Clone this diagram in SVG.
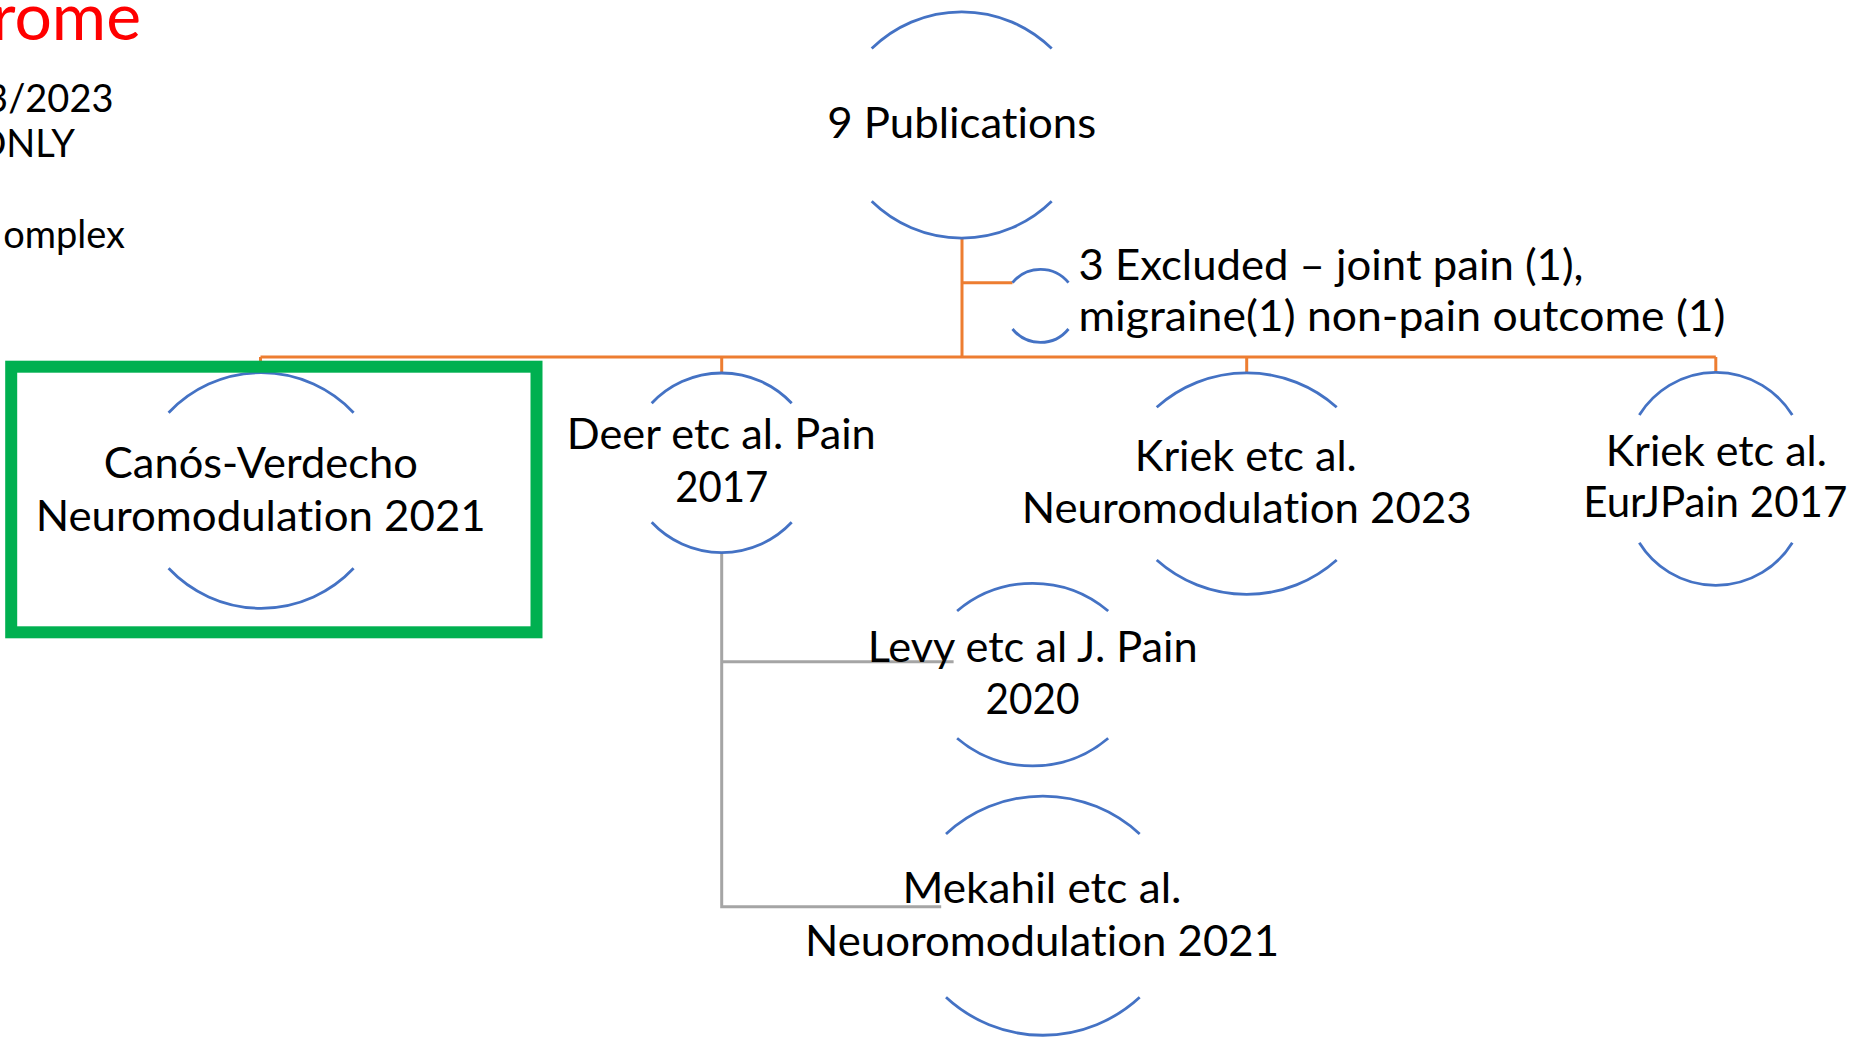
<svg xmlns="http://www.w3.org/2000/svg" width="1857" height="1038" viewBox="0 0 1857 1038">
  <style>
    .arc { fill: none; stroke: #4472C4; stroke-width: 2.8; }
    .org { fill: none; stroke: #ED7D31; stroke-width: 3; }
    .gry { fill: none; stroke: #A5A5A5; stroke-width: 3; }
    text { font-variant-ligatures: none; }
    .t { font-family: Lato, "Open Sans", "Liberation Sans", sans-serif; font-size: 43px; fill: #000; text-anchor: middle; }
    .ts { text-anchor: start; }
    .hdr { font-family: Lato, "Open Sans", "Liberation Sans", sans-serif; font-size: 38px; fill: #000; text-anchor: end; }
    .title { font-family: Lato, "Open Sans", "Liberation Sans", sans-serif; font-size: 66px; fill: #FF0000; text-anchor: end; }
  </style>
  <rect x="0" y="0" width="1857" height="1038" fill="#FFFFFF"/>

  <!-- slide heading, cut at the left edge -->
  <g id="heading">
    <text class="title" x="141" y="40">rome</text>
    <text class="hdr" x="113.5" y="112">3/2023</text>
    <text class="hdr" x="75" y="157">ONLY</text>
    <text class="hdr" x="125" y="248">omplex</text>
  </g>

  <!-- connectors -->
  <g id="connectors">
    <path class="org" d="M962 238 V357"/>
    <path class="org" d="M962 282.7 H1012.5"/>
    <path class="org" d="M260.5 357 H1715.8"/>
    <path class="org" d="M260.5 357 V373"/>
    <path class="org" d="M721.7 357 V373"/>
    <path class="org" d="M1246.7 357 V373"/>
    <path class="org" d="M1715.8 357 V373"/>
    <path class="gry" d="M721.7 552 V906.7 H941.2"/>
    <path class="gry" d="M721.7 661.7 H953.6"/>
  </g>

  <g id="node-publications">
    <path class="arc" d="M871.7 48.6 A128.5 128.5 0 0 1 1051.7 48.6"/>
    <path class="arc" d="M871.7 201.3 A128.5 128.5 0 0 0 1051.7 201.3"/>
    <text class="t" x="961.7" y="138" textLength="269" lengthAdjust="spacingAndGlyphs">9 Publications</text>
  </g>

  <g id="node-excluded">
    <path class="arc" d="M1012.5 282.7 A36 36 0 0 1 1068.5 282.7"/>
    <path class="arc" d="M1012.5 329 A36 36 0 0 0 1068.5 329"/>
    <text class="t ts" x="1078.5" y="280" textLength="505" lengthAdjust="spacingAndGlyphs">3 Excluded – joint pain (1),</text>
    <text class="t ts" x="1078.5" y="331" textLength="647" lengthAdjust="spacingAndGlyphs">migraine(1) non-pain outcome (1)</text>
  </g>

  <g id="node-canos">
    <path class="arc" d="M168.6 412.7 A127 127 0 0 1 353.6 412.7"/>
    <path class="arc" d="M168.6 568.3 A127 127 0 0 0 353.6 568.3"/>
    <text class="t" x="260.8" y="477.7" textLength="314" lengthAdjust="spacingAndGlyphs">Canós-Verdecho</text>
    <text class="t" x="260.7" y="531" textLength="450" lengthAdjust="spacingAndGlyphs">Neuromodulation 2021</text>
    <rect x="11.2" y="366.7" width="525.3" height="265.6" fill="none" stroke="#00B050" stroke-width="12"/>
  </g>

  <g id="node-deer">
    <path class="arc" d="M651.7 403.3 A96 96 0 0 1 791.7 403.3"/>
    <path class="arc" d="M651.7 522.3 A96 96 0 0 0 791.7 522.3"/>
    <text class="t" x="721.3" y="449.3" textLength="309" lengthAdjust="spacingAndGlyphs">Deer etc al. Pain</text>
    <text class="t" x="721.7" y="501.7" textLength="93" lengthAdjust="spacingAndGlyphs">2017</text>
  </g>

  <g id="node-kriek-2023">
    <path class="arc" d="M1156.7 407.3 A135 135 0 0 1 1336.7 407.3"/>
    <path class="arc" d="M1156.7 560 A135 135 0 0 0 1336.7 560"/>
    <text class="t" x="1245.8" y="470.7" textLength="222" lengthAdjust="spacingAndGlyphs">Kriek etc al.</text>
    <text class="t" x="1246.7" y="523.3" textLength="450" lengthAdjust="spacingAndGlyphs">Neuromodulation 2023</text>
  </g>

  <g id="node-kriek-2017">
    <path class="arc" d="M1639.3 415 A90 90 0 0 1 1792.3 415"/>
    <path class="arc" d="M1639.3 542.7 A90 90 0 0 0 1792.3 542.7"/>
    <text class="t" x="1716.3" y="466" textLength="221" lengthAdjust="spacingAndGlyphs">Kriek etc al.</text>
    <text class="t" x="1715.3" y="516.7" textLength="264" lengthAdjust="spacingAndGlyphs">EurJPain 2017</text>
  </g>

  <g id="node-levy">
    <path class="arc" d="M957.1 611 A117 117 0 0 1 1108.2 611"/>
    <path class="arc" d="M957.1 738.3 A117 117 0 0 0 1108.2 738.3"/>
    <text class="t" x="1032.7" y="661.7" textLength="330" lengthAdjust="spacingAndGlyphs">Levy etc al J. Pain</text>
    <text class="t" x="1032.5" y="714.3" textLength="94" lengthAdjust="spacingAndGlyphs">2020</text>
  </g>

  <g id="node-mekahil">
    <path class="arc" d="M946 834 A142.5 142.5 0 0 1 1139.7 834"/>
    <path class="arc" d="M946 997.3 A142.5 142.5 0 0 0 1139.7 997.3"/>
    <text class="t" x="1042" y="903.3" textLength="279" lengthAdjust="spacingAndGlyphs">Mekahil etc al.</text>
    <text class="t" x="1042" y="956" textLength="474" lengthAdjust="spacingAndGlyphs">Neuoromodulation 2021</text>
  </g>
</svg>
